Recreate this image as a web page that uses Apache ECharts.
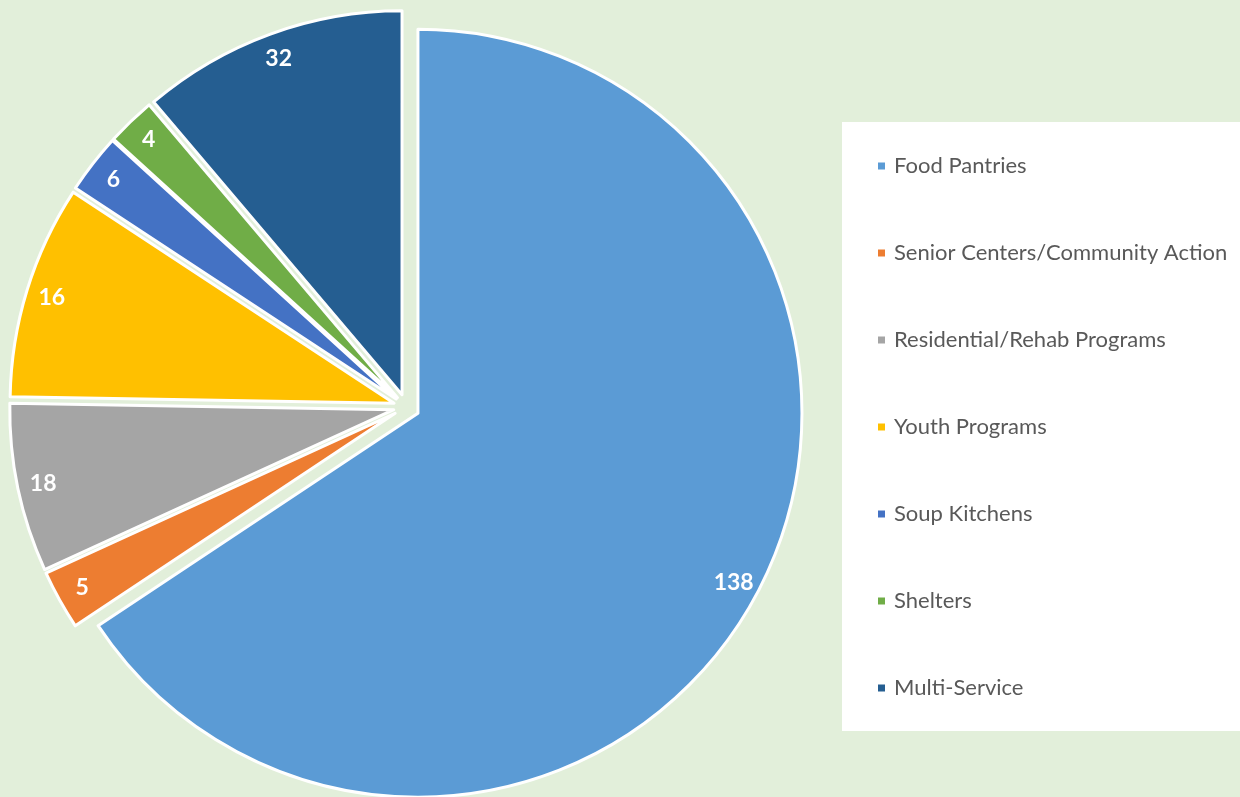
<!DOCTYPE html>
<html>
<head>
<meta charset="utf-8">
<script src="https://cdn.jsdelivr.net/npm/echarts@6/dist/echarts.min.js"></script>
<style>
  html, body { margin: 0; padding: 0; background: #E2EFDA; }
  #chart { width: 1240px; height: 797px; }
</style>
</head>
<body>
<div id="chart"></div>
<script>
// categories, clockwise from 12 o'clock
const categories = ['Food Pantries', 'Senior Centers/Community Action', 'Residential/Rehab Programs',
  'Youth Programs', 'Soup Kitchens', 'Shelters', 'Multi-Service']
// numbers printed on the slices
const counts = [138, 5, 18, 16, 6, 4, 32]
// share of the pie each slice takes (%)
const shares = [65.7, 2.5, 7.1, 9.0, 2.5, 2.05, 11.2]
const colors = ['#5B9BD5', '#ED7D31', '#A5A5A5', '#FFC000', '#4472C4', '#70AD47', '#255E91']

const center = [406.5, 407]
const R = 384
const explode = 13

let pieData = categories.map((name, i) => ({
  name: name,
  value: shares[i],
  selected: true,
  itemStyle: { color: colors[i] }
}))
// transparent ring, only there to put the labels near the outer edge
let labelData = categories.map((name, i) => ({
  name: name,
  value: shares[i],
  count: counts[i],
  selected: true,
  itemStyle: { color: 'rgba(0,0,0,0)', borderWidth: 0 }
}))

let chart = echarts.init(document.getElementById('chart'), null, {renderer: 'canvas'})
chart.setOption({
  backgroundColor: '#E2EFDA',
  animation: false,
  color: colors,
  graphic: [{
    type: 'rect',
    shape: { x: 842, y: 122, width: 398, height: 609 },
    style: { fill: '#ffffff' },
    z: 0
  }],
  legend: {
    orient: 'vertical',
    left: 876,
    top: 155,
    padding: 0,
    icon: 'rect',
    itemWidth: 9,
    itemHeight: 9,
    itemGap: 65,
    textStyle: { fontFamily: 'Lato', fontSize: 22, color: '#595959', lineHeight: 22, padding: [0, 0, 0, 3] },
    data: categories,
    selectedMode: false
  },
  series: [{
    type: 'pie',
    center: center,
    radius: [0, R],
    startAngle: 90,
    clockwise: true,
    selectedMode: 'multiple',
    selectedOffset: explode,
    silent: true,
    itemStyle: { borderColor: '#ffffff', borderWidth: 3 },
    label: { show: false },
    labelLine: { show: false },
    emphasis: { disabled: true },
    data: pieData
  }, {
    type: 'pie',
    center: center,
    radius: [R * 0.85, R],
    startAngle: 90,
    clockwise: true,
    selectedMode: 'multiple',
    selectedOffset: explode,
    silent: true,
    label: {
      show: true,
      position: 'inside',
      formatter: p => String(counts[p.dataIndex]),
      color: '#ffffff',
      fontFamily: 'Lato',
      fontWeight: 'bold',
      fontSize: 23
    },
    labelLine: { show: false },
    emphasis: { disabled: true },
    data: labelData
  }]
})
</script>
</body>
</html>
